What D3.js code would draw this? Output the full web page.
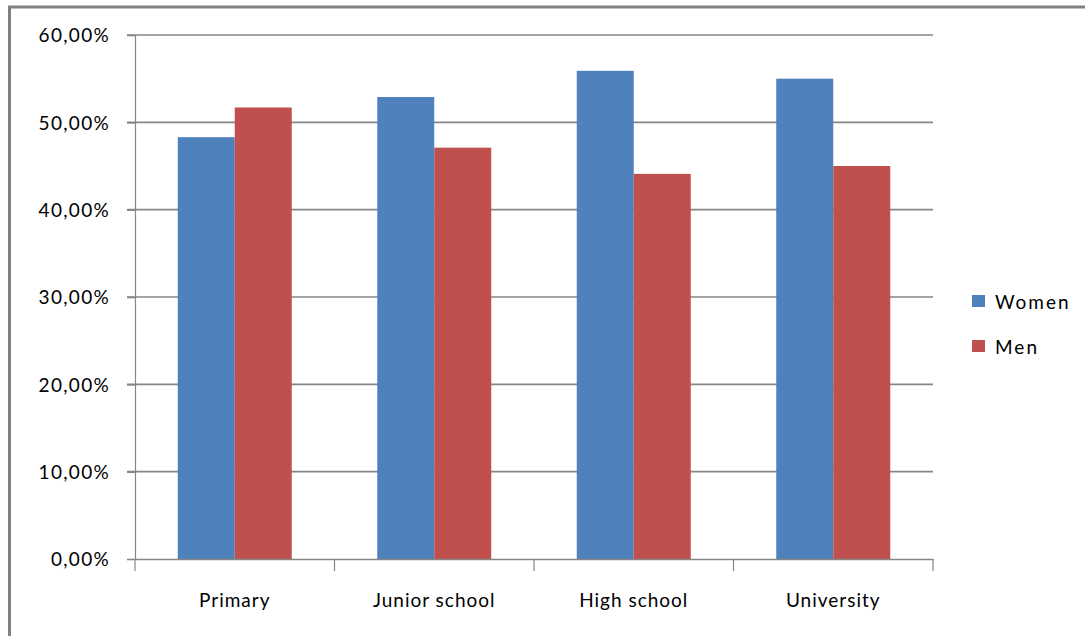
<!DOCTYPE html>
<html>
<head>
<meta charset="utf-8">
<script src="https://cdn.jsdelivr.net/npm/d3@7"></script>
<style>
  html, body { margin: 0; padding: 0; background: #fff; }
  svg { display: block; }
  text { font-family: Lato, "Open Sans", sans-serif; fill: #000; }
</style>
</head>
<body>
<svg id="chart" width="1085" height="636"></svg>
<script>
const categories = ["Primary", "Junior school", "High school", "University"];
const seriesNames = ["Women", "Men"];
const women = [48.3, 52.9, 55.9, 55.0];
const men = [51.7, 47.1, 44.1, 45.0];
const yTickValues = [0, 10, 20, 30, 40, 50, 60];
const yTickLabels = ["0,00%", "10,00%", "20,00%", "30,00%", "40,00%", "50,00%", "60,00%"];
const colors = ["#4F81BD", "#C0504D"];

const seriesValues = [women, men];
const svg = d3.select("#chart");

// outer frame (only left/top visible in the picture)
svg.append("rect")
  .attr("x", 9.5).attr("y", 7)
  .attr("width", 1200).attr("height", 700)
  .attr("fill", "none")
  .attr("stroke", "#808080")
  .attr("stroke-width", 3);

const plot = { left: 135, right: 933, top: 35, bottom: 559 };

const x0 = d3.scaleBand().domain(categories).range([plot.left, plot.right]).padding(0);
const x1 = d3.scaleBand().domain(seriesNames).range([0, x0.bandwidth()])
  .paddingInner(0).paddingOuter(0.75);
const y = d3.scaleLinear().domain([0, 60]).range([plot.bottom, plot.top]);

// gridlines
svg.append("g").selectAll("line")
  .data(yTickValues.filter(v => v > 0))
  .join("line")
  .attr("x1", plot.left - 8).attr("x2", plot.right)
  .attr("y1", d => y(d)).attr("y2", d => y(d))
  .attr("stroke", "#868686").attr("stroke-width", 1.6);

// bars
const rows = categories.map((c, i) => ({ cat: c, vals: seriesNames.map((s, j) => ({ s, j, v: seriesValues[j][i] })) }));
svg.append("g").selectAll("g")
  .data(rows)
  .join("g")
  .attr("transform", d => `translate(${x0(d.cat)},0)`)
  .selectAll("rect")
  .data(d => d.vals)
  .join("rect")
  .attr("x", d => x1(d.s))
  .attr("width", x1.bandwidth())
  .attr("y", d => y(d.v))
  .attr("height", d => y(0) - y(d.v))
  .attr("fill", d => colors[d.j]);

// y axis
const yAxis = d3.axisLeft(y).tickValues(yTickValues)
  .tickFormat((d, i) => yTickLabels[i]).tickSize(8).tickPadding(17);
const gy = svg.append("g").attr("transform", `translate(${plot.left},0)`).call(yAxis);
gy.select(".domain").attr("stroke", "#868686").attr("stroke-width", 1.2);
gy.selectAll(".tick line").attr("stroke", "#868686").attr("stroke-width", 1.6);
gy.selectAll("text").attr("font-size", 19).attr("letter-spacing", "1.3px")
  .attr("font-family", "Lato, sans-serif").attr("fill", "#000").attr("dy", "0.36em");

// x axis
const xAxis = d3.axisBottom(x0).tickSize(0).tickPadding(35);
const gx = svg.append("g").attr("transform", `translate(0,${plot.bottom})`).call(xAxis);
gx.select(".domain").attr("stroke", "#868686").attr("stroke-width", 1.6);
gx.selectAll("text").attr("font-size", 19).attr("letter-spacing", "1px")
  .attr("font-family", "Lato, sans-serif").attr("fill", "#000").attr("dy", "0.71em");
// category boundary tick marks
const bounds = categories.map(c => x0(c)).concat([x0(categories[categories.length - 1]) + x0.bandwidth()]);
svg.append("g").selectAll("line")
  .data(bounds)
  .join("line")
  .attr("x1", d => d).attr("x2", d => d)
  .attr("y1", plot.bottom).attr("y2", plot.bottom + 12)
  .attr("stroke", "#868686").attr("stroke-width", 1.2);

// legend
const legend = svg.append("g").selectAll("g")
  .data(seriesNames)
  .join("g")
  .attr("transform", (d, i) => `translate(972,${295 + i * 45})`);
legend.append("rect").attr("width", 13).attr("height", 12).attr("fill", (d, i) => colors[i]);
legend.append("text").attr("x", 23).attr("y", 14)
  .attr("font-size", 19).attr("letter-spacing", "2px").text(d => d);
</script>
</body>
</html>
